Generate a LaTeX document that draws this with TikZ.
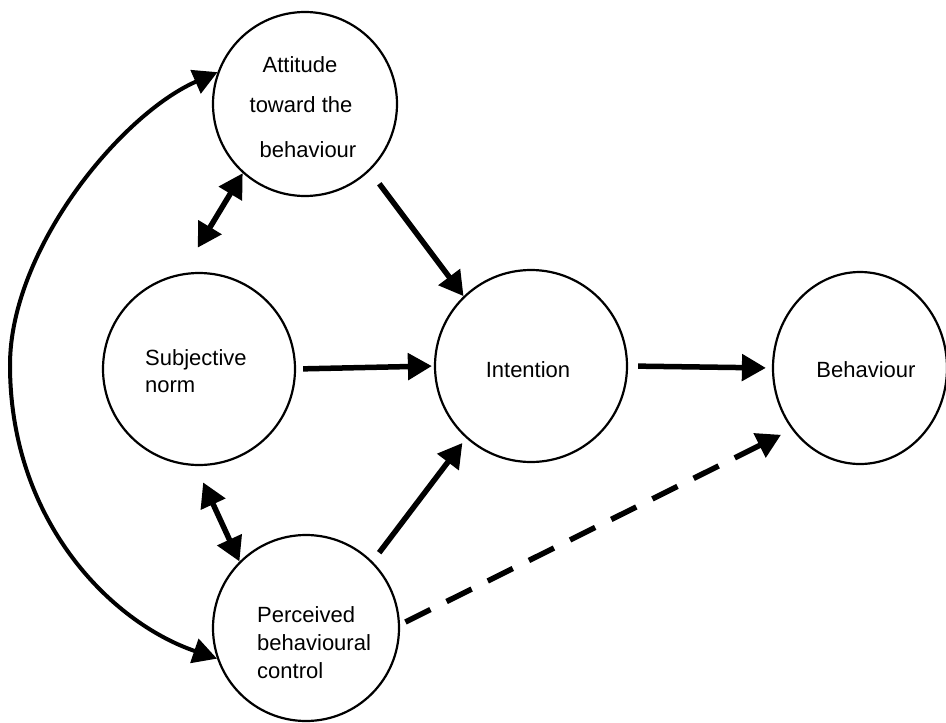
\documentclass[tikz,border=0pt]{standalone}
\usepackage{fontspec}
\setmainfont{Liberation Sans}
\usetikzlibrary{arrows.meta,shapes.geometric}
\begin{document}
\begin{tikzpicture}[x=1pt,y=-1pt,
  concept/.style={draw, circle, line width=2.2pt, inner sep=0pt, minimum size=#1},
  txt/.style={font=\fontsize{22}{27}\selectfont, inner sep=0pt},
  link/.style={line width=5.5pt, -{Triangle[length=24pt,width=26pt]}},
  twoway/.style={line width=5.5pt, {Triangle[length=24pt,width=26pt]}-{Triangle[length=24pt,width=26pt]}},
  loop/.style={line width=4pt, {Triangle[length=24pt,width=25pt]}-{Triangle[length=24pt,width=25pt]}},
  direct/.style={line width=5.5pt, dash pattern=on 28pt off 18pt, -{Triangle[length=24pt,width=26pt]}}
  ]
\useasboundingbox (0,0) rectangle (946,723);

% constructs
\node[concept=184pt] (att) at (305,104) {};
\node[concept=192pt] (sn)  at (199,369) {};
\node[concept=192pt] (int) at (531,366) {};
\node[draw, ellipse, line width=2.2pt, inner sep=0pt,
      minimum width=174pt, minimum height=192pt] (beh) at (860,368) {};
\node[concept=186pt] (pbc) at (306,628) {};

% labels
\node[txt, anchor=base] (att1) at (300,72)  {Attitude};
\node[txt, anchor=base] (att2) at (301,112) {toward the};
\node[txt, anchor=base] (att3) at (308,157) {behaviour};
\node[txt, anchor=base west] (sn1) at (145,365) {Subjective};
\node[txt, anchor=base west] (sn2) at (145,392) {norm};
\node[txt, anchor=base] (int1) at (528,377) {Intention};
\node[txt, anchor=base] (beh1) at (866,377) {Behaviour};
\node[txt, anchor=base west] (pbc1) at (257,622) {Perceived};
\node[txt, anchor=base west] (pbc2) at (257,650) {behavioural};
\node[txt, anchor=base west] (pbc3) at (257,678) {control};

% paths towards intention and behaviour
\draw[link, shorten <=16pt] (att.314) -- (int.134);
\draw[link, shorten <=7pt, shorten >=2pt] (sn.0) -- (int.180);
\draw[link, shorten <=11pt, shorten >=6pt] (pbc.45) -- (int.228);
\draw[link, shorten <=10pt, shorten >=6pt] (int.0) -- (beh.180);
\draw[direct, shorten <=6pt, shorten >=12pt] (pbc.2) -- (beh.222);

% correlations among the antecedents
\draw[twoway, shorten >=30pt] (att.228) -- (sn.100);
\draw[twoway, shorten <=18pt] (sn.268) -- (pbc.135);
\coordinate (arcmid) at (10,365);
\draw[loop] (att.160) .. controls (120,115) and (10,250) .. (arcmid)
            .. controls (10,520) and (110,622) .. (pbc.199);
\end{tikzpicture}
\end{document}
